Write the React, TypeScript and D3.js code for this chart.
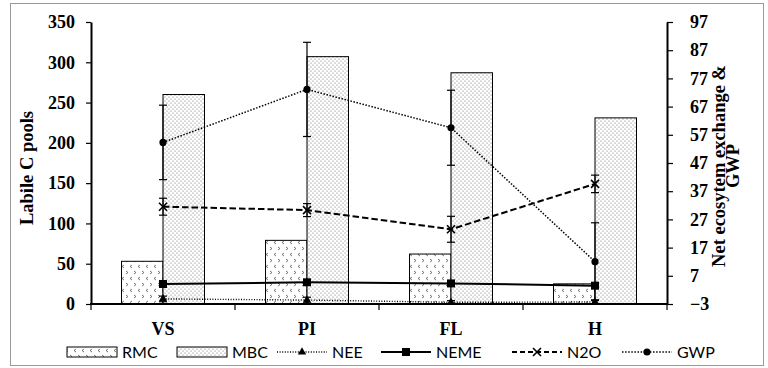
import React, { useEffect, useRef } from 'react';
import * as d3 from 'd3';

// Data
const categories = ['VS', 'PI', 'FL', 'H'];
const barSeries = ['RMC', 'MBC'];
const rmc = [53, 79, 62, 25];
const mbc = [260, 307, 287, 231];
const nee = [-1.2, -1.6, -2.4, -2.3];
const neeErr = [1, 1, 0.6, 0.8];
const neme = [4.1, 4.7, 4.3, 3.5];
const n2o = [31.5, 30.3, 23.5, 39.6];
const n2oErr = [3, 2.3, 4.6, 3.1];
const gwp = [54.3, 73.1, 59.5, 12];
const gwpErr = [13.2, 16.7, 13.3, 13.8];
const leftTicks = [0, 50, 100, 150, 200, 250, 300, 350];
const rightTicks = [-3, 7, 17, 27, 37, 47, 57, 67, 77, 87, 97];

const serif = '"Liberation Serif", "Times New Roman", serif';
const sans = 'Lato, "Liberation Sans", sans-serif';

const App = () => {
  const chartRef = useRef<SVGSVGElement>(null);

  useEffect(() => {
    const width = 768;
    const height = 368;
    const margin = { top: 22, right: 101, bottom: 64, left: 91 };
    const x0v = margin.left;
    const x1v = width - margin.right;
    const yBase = height - margin.bottom;

    const svg = d3.select(chartRef.current);
    svg.selectAll('*').remove();

    // patterns
    const defs = svg.append('defs');
    const pDots = defs.append('pattern')
      .attr('id', 'mbcPat').attr('patternUnits', 'userSpaceOnUse')
      .attr('width', 4).attr('height', 4);
    pDots.append('rect').attr('width', 4).attr('height', 4).attr('fill', '#fff');
    pDots.append('circle').attr('cx', 1).attr('cy', 1).attr('r', 0.55).attr('fill', '#666');
    pDots.append('circle').attr('cx', 3).attr('cy', 3).attr('r', 0.55).attr('fill', '#666');

    const pChev = defs.append('pattern')
      .attr('id', 'rmcPat').attr('patternUnits', 'userSpaceOnUse')
      .attr('width', 8).attr('height', 12);
    pChev.append('rect').attr('width', 8).attr('height', 12).attr('fill', '#fff');
    pChev.append('path').attr('d', 'M4,1 L2,2.5 L4,4').attr('fill', 'none').attr('stroke', '#555').attr('stroke-width', 0.8);
    pChev.append('path').attr('d', 'M6,7 L8,8.5 L6,10 M-2,7 L0,8.5 L-2,10').attr('fill', 'none').attr('stroke', '#555').attr('stroke-width', 0.8);

    // frame
    svg.append('rect')
      .attr('x', 10.5).attr('y', 3.5).attr('width', 753).attr('height', 362)
      .attr('fill', '#fff').attr('stroke', '#999').attr('stroke-width', 1);

    // scales
    const xScale = d3.scaleBand().domain(categories).range([x0v, x1v]);
    const xInner = d3.scaleBand().domain(barSeries)
      .range([0, xScale.bandwidth()]).paddingInner(0).paddingOuter(0.735);
    const yLeft = d3.scaleLinear().domain([0, 350]).range([yBase, margin.top]);
    const yRight = d3.scaleLinear().domain([-3, 97]).range([yBase, margin.top]);
    const xc = (i: number) => (xScale(categories[i]) as number) + xScale.bandwidth() / 2;

    // bars
    const barData = categories.flatMap((c, i) => [
      { c, key: 'RMC', v: rmc[i] },
      { c, key: 'MBC', v: mbc[i] },
    ]);
    svg.append('g').selectAll('rect')
      .data(barData)
      .enter()
      .append('rect')
      .attr('x', d => (xScale(d.c) as number) + (xInner(d.key) as number))
      .attr('y', d => yLeft(d.v))
      .attr('width', xInner.bandwidth())
      .attr('height', d => yBase - yLeft(d.v))
      .attr('fill', d => (d.key === 'RMC' ? 'url(#rmcPat)' : 'url(#mbcPat)'))
      .attr('stroke', '#000')
      .attr('stroke-width', 1);

    // lines
    const line = d3.line<number>().x((_, i) => xc(i)).y(d => yRight(d));
    const lines = [
      { vals: nee, dash: '1,1.6', w: 1.4 },
      { vals: neme, dash: null, w: 2 },
      { vals: n2o, dash: '6.5,3', w: 2 },
      { vals: gwp, dash: '1.5,1.6', w: 1.5 },
    ];
    lines.forEach(l => {
      svg.append('path')
        .attr('d', line(l.vals))
        .attr('fill', 'none')
        .attr('stroke', '#000')
        .attr('stroke-width', l.w)
        .attr('stroke-dasharray', l.dash);
    });

    // error bars
    const errSets = [
      { vals: gwp, err: gwpErr },
      { vals: n2o, err: n2oErr },
      { vals: nee, err: neeErr },
    ];
    errSets.forEach(s => {
      const g = svg.append('g').attr('stroke', '#000').attr('stroke-width', 1.2);
      s.vals.forEach((v, i) => {
        const x = xc(i);
        const yt = yRight(v + s.err[i]);
        const yb = yRight(v - s.err[i]);
        g.append('line').attr('x1', x).attr('x2', x).attr('y1', yt).attr('y2', yb);
        g.append('line').attr('x1', x - 4).attr('x2', x + 4).attr('y1', yt).attr('y2', yt);
        g.append('line').attr('x1', x - 4).attr('x2', x + 4).attr('y1', yb).attr('y2', yb);
      });
    });

    // markers
    const drawMarker = (g: any, type: string, x: number, y: number) => {
      if (type === 'circle') {
        g.append('circle').attr('cx', x).attr('cy', y).attr('r', 3.6).attr('fill', '#000');
      } else if (type === 'square') {
        g.append('rect').attr('x', x - 4).attr('y', y - 4).attr('width', 8).attr('height', 8).attr('fill', '#000');
      } else if (type === 'triangle') {
        g.append('path').attr('d', d3.symbol(d3.symbolTriangle, 30)()).attr('transform', `translate(${x},${y})`).attr('fill', '#000');
      } else {
        g.append('path')
          .attr('d', `M${x - 4},${y - 4}L${x + 4},${y + 4}M${x - 4},${y + 4}L${x + 4},${y - 4}`)
          .attr('stroke', '#000').attr('stroke-width', 1.6).attr('fill', 'none');
      }
    };
    const markerSets = [
      { vals: nee, type: 'triangle' },
      { vals: neme, type: 'square' },
      { vals: n2o, type: 'x' },
      { vals: gwp, type: 'circle' },
    ];
    const mg = svg.append('g');
    markerSets.forEach(m => m.vals.forEach((v, i) => drawMarker(mg, m.type, xc(i), yRight(v))));

    // axes
    const yAxisL = d3.axisLeft(yLeft).tickValues(leftTicks).tickSize(5).tickSizeOuter(0).tickPadding(11);
    const yAxisR = d3.axisRight(yRight).tickValues(rightTicks).tickSize(6).tickSizeOuter(0).tickPadding(17);

    const gl = svg.append('g').attr('transform', `translate(${x0v},0)`).call(yAxisL);
    const gr = svg.append('g').attr('transform', `translate(${x1v},0)`).call(yAxisR);
    [gl, gr].forEach(g => {
      g.attr('font-family', serif).attr('font-size', 18);
      g.select('.domain').attr('stroke-width', 2);
      g.selectAll('.tick line').attr('stroke-width', 1.2);
      g.selectAll('.tick text')
        .attr('font-family', serif).attr('font-weight', 'bold').attr('font-size', 18).attr('fill', '#000');
    });

    // x axis
    svg.append('line')
      .attr('x1', x0v - 1).attr('x2', x1v + 1).attr('y1', yBase).attr('y2', yBase)
      .attr('stroke', '#000').attr('stroke-width', 2);
    const bounds = categories.map(c => xScale(c) as number).concat([x1v]);
    svg.append('g').selectAll('line')
      .data(bounds).enter().append('line')
      .attr('x1', d => d).attr('x2', d => d)
      .attr('y1', yBase).attr('y2', yBase + 6)
      .attr('stroke', '#000').attr('stroke-width', 1.2);
    svg.append('g').selectAll('text')
      .data(categories).enter().append('text')
      .attr('x', (_, i) => xc(i)).attr('y', 334.5)
      .attr('text-anchor', 'middle')
      .attr('font-family', serif).attr('font-weight', 'bold').attr('font-size', 18)
      .text(d => d);

    // axis titles
    svg.append('text')
      .attr('transform', `translate(33,168) rotate(-90)`)
      .attr('text-anchor', 'middle')
      .attr('font-family', serif).attr('font-weight', 'bold').attr('font-size', 18.5)
      .text('Labile C pools');
    svg.append('text')
      .attr('transform', `translate(725,166) rotate(-90)`)
      .attr('text-anchor', 'middle')
      .attr('font-family', serif).attr('font-weight', 'bold').attr('font-size', 18.5)
      .text('Net ecosytem exchange &');
    svg.append('text')
      .attr('transform', `translate(739,166) rotate(-90)`)
      .attr('text-anchor', 'middle')
      .attr('font-family', serif).attr('font-weight', 'bold').attr('font-size', 18.5)
      .text('GWP');

    // legend
    const legendY = 352;
    const legendItems = [
      { name: 'RMC', x: 67, kind: 'box', fill: 'url(#rmcPat)' },
      { name: 'MBC', x: 177, kind: 'box', fill: 'url(#mbcPat)' },
      { name: 'NEE', x: 277, kind: 'line', dash: '1,1.6', w: 1.4, marker: 'triangle' },
      { name: 'NEME', x: 381, kind: 'line', dash: null, w: 2, marker: 'square' },
      { name: 'N2O', x: 512, kind: 'line', dash: '5,3', w: 2, marker: 'x' },
      { name: 'GWP', x: 622, kind: 'line', dash: '1.5,1.6', w: 1.5, marker: 'circle' },
    ];
    const lg = svg.append('g');
    legendItems.forEach(it => {
      if (it.kind === 'box') {
        lg.append('rect')
          .attr('x', it.x).attr('y', legendY - 5).attr('width', 50).attr('height', 10)
          .attr('fill', it.fill as string).attr('stroke', '#000').attr('stroke-width', 1);
      } else {
        lg.append('line')
          .attr('x1', it.x).attr('x2', it.x + 50).attr('y1', legendY).attr('y2', legendY)
          .attr('stroke', '#000').attr('stroke-width', it.w as number)
          .attr('stroke-dasharray', it.dash as any);
        drawMarker(lg, it.marker as string, it.x + 25, legendY);
      }
      lg.append('text')
        .attr('x', it.x + 55).attr('y', legendY + 6)
        .attr('font-family', sans).attr('font-size', 16).attr('fill', '#000')
        .text(it.name);
    });
  }, []);

  return (
    <div style={{ position: 'absolute', left: 0, top: 0 }}>
      <svg ref={chartRef} width={768} height={368}></svg>
    </div>
  );
};

export default App;
